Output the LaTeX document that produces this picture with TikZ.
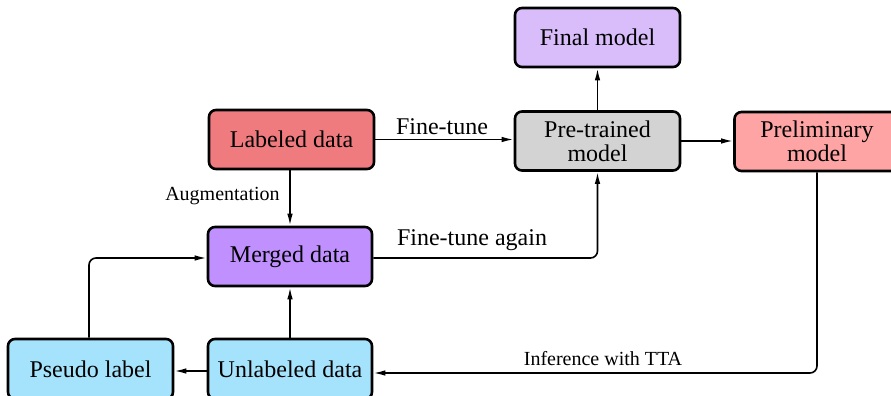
\documentclass[tikz,border=0pt]{standalone}
\usepackage{fontspec}
\setmainfont{Liberation Serif}
\usetikzlibrary{arrows.meta}
\definecolor{cLab}{HTML}{F07B7F}
\definecolor{cFin}{HTML}{D9BDFB}
\definecolor{cPre}{HTML}{D3D3D3}
\definecolor{cPrel}{HTML}{FFA4A4}
\definecolor{cMer}{HTML}{C190FF}
\definecolor{cBlu}{HTML}{A5E3FD}
\tikzset{
  box/.style={draw=black, line width=2.6pt, rounded corners=7pt, minimum width=165pt, minimum height=59pt, inner sep=0pt, align=center, font=\rmfamily\fontsize{24}{24}\selectfont},
  conn/.style={line width=1.6pt, -{Latex[length=12pt,width=5.5pt]}, rounded corners=7pt},
  biglab/.style={font=\rmfamily\fontsize{24}{24}\selectfont, inner sep=0pt},
  smalllab/.style={font=\rmfamily\fontsize{20}{20}\selectfont, inner sep=0pt}
}
\begin{document}
\begin{tikzpicture}[x=1pt,y=-1pt]
\useasboundingbox (0,0) rectangle (891,396);
\clip (0,0) rectangle (891,396);
\node[box, fill=cFin] (final) at (597.5,37.5) {Final model};
\node[box, fill=cLab] (labeled) at (291.5,139.5) {Labeled data};
\node[box, fill=cPre] (pre) at (597.5,141) {Pre-trained\\model};
\node[box, fill=cPrel] (prelim) at (817,141.5) {Preliminary\\model};
\node[box, fill=cMer, minimum width=164pt] (merged) at (290,256.5) {Merged data};
\node[box, fill=cBlu, minimum height=60pt] (pseudo) at (90.5,369) {Pseudo label};
\node[box, fill=cBlu, minimum width=164pt, minimum height=60pt] (unlab) at (290,369) {Unlabeled data};

\coordinate (ftend) at (pre.west |- labeled.east);
\draw[conn] (labeled.east) -- (ftend);
\node[biglab] (lft) at (442,127) {Fine-tune};

\draw[conn] (labeled.south -| merged.north) -- (merged.north);
\node[smalllab] (laug) at (222.5,196) {Augmentation};

\draw[conn] (pre.north) -- (final.south);
\draw[conn] (pre.east) -- (prelim.west |- pre.east);

\coordinate (fta) at (597.5,258);
\draw[conn] (merged.east |- fta) -- (fta) -- (pre.south);
\node[biglab] (lfta) at (472,240) {Fine-tune again};

\coordinate (inf) at (817,373);
\draw[conn] (prelim.south) -- (inf) -- (unlab.east |- inf);
\node[smalllab] (linf) at (603,359) {Inference with TTA};

\draw[conn] (unlab.north) -- (merged.south);
\coordinate (ul) at (208,371);
\draw[conn] (unlab.west |- ul) -- (pseudo.east |- ul);

\coordinate (pl) at (89,258);
\draw[conn] (pseudo.north -| pl) -- (pl) -- (merged.west |- pl);
\end{tikzpicture}
\end{document}
